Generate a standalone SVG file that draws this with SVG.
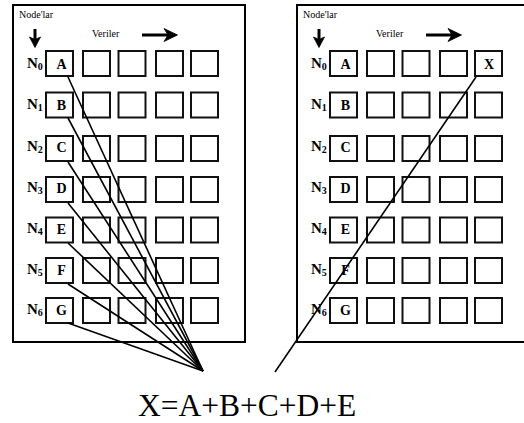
<svg xmlns="http://www.w3.org/2000/svg" width="524" height="423" viewBox="0 0 524 423">
  <style>
    .frame { fill: #fff; stroke: #000; stroke-width: 2; }
    .cell { fill: #fff; stroke: #111; stroke-width: 2; }
    .hdr { font-family: "Liberation Serif", "Times New Roman", serif; font-size: 10px; fill: #000; }
    .nlab { font-family: "Liberation Serif", "Times New Roman", serif; font-size: 15px; font-weight: bold; fill: #000; }
    .sub { font-size: 10px; }
    .clab { font-family: "Liberation Serif", "Times New Roman", serif; font-size: 14px; font-weight: bold; fill: #000; text-anchor: middle; }
    .link { stroke: #000; stroke-width: 1.6; fill: none; }
    .eq { font-family: "Liberation Serif", "Times New Roman", serif; font-size: 31.5px; fill: #000; }
  </style>
  <defs>
    <!-- one row of cells: a node label cell plus four data cells -->
    <g id="row">
      <rect class="cell" x="33" y="0" width="27" height="25"/>
      <rect class="cell" x="70" y="0" width="27" height="25"/>
      <rect class="cell" x="105.5" y="0" width="27" height="25"/>
      <rect class="cell" x="143" y="0" width="27" height="25"/>
      <rect class="cell" x="178" y="0" width="27" height="25"/>
    </g>
    <g id="head">
      <text class="hdr" x="6" y="18">Node'lar</text>
      <path d="M22,29 V40" stroke="#000" stroke-width="3"/>
      <path d="M16.5,37 L22,47.5 L27.5,37 L22,39.5 Z" fill="#000" stroke="#000" stroke-width="0.8" stroke-linejoin="round"/>
      <text class="hdr" x="79" y="37">Veriler</text>
      <path d="M129,35 H156" stroke="#000" stroke-width="3"/>
      <path d="M151,28.5 L164.5,35 L151,41.5 L155,35 Z" fill="#000" stroke="#000" stroke-width="0.8" stroke-linejoin="round"/>
    </g>
    <g id="nlabels">
      <text class="nlab" x="14" y="68">N<tspan class="sub" dy="2">0</tspan></text>
      <text class="nlab" x="14" y="109">N<tspan class="sub" dy="2">1</tspan></text>
      <text class="nlab" x="14" y="151">N<tspan class="sub" dy="2">2</tspan></text>
      <text class="nlab" x="14" y="192">N<tspan class="sub" dy="2">3</tspan></text>
      <text class="nlab" x="14" y="233">N<tspan class="sub" dy="2">4</tspan></text>
      <text class="nlab" x="14" y="274">N<tspan class="sub" dy="2">5</tspan></text>
      <text class="nlab" x="14" y="314">N<tspan class="sub" dy="2">6</tspan></text>
    </g>
    <g id="letters">
      <text class="clab" x="48.5" y="69">A</text>
      <text class="clab" x="48.5" y="110">B</text>
      <text class="clab" x="48.5" y="152">C</text>
      <text class="clab" x="48.5" y="193">D</text>
      <text class="clab" x="48.5" y="234">E</text>
      <text class="clab" x="48.5" y="275">F</text>
      <text class="clab" x="48.5" y="315">G</text>
    </g>
  </defs>

  <!-- left block: values before the reduction -->
  <g id="left-block" transform="translate(13,0)">
    <rect class="frame" x="0" y="5" width="232" height="337"/>
    <use href="#head"/>
    <use href="#row" y="51"/>
    <use href="#row" y="92.5"/>
    <use href="#row" y="136"/>
    <use href="#row" y="177"/>
    <use href="#row" y="217.5"/>
    <use href="#row" y="258"/>
    <use href="#row" y="298"/>
    <use href="#nlabels"/>
    <use href="#letters"/>
  </g>

  <!-- right block: result stored in the last cell of N0 -->
  <g id="right-block" transform="translate(297,0)">
    <rect class="frame" x="0" y="5" width="240" height="337"/>
    <use href="#head"/>
    <use href="#row" y="51"/>
    <use href="#row" y="92.5"/>
    <use href="#row" y="136"/>
    <use href="#row" y="177"/>
    <use href="#row" y="217.5"/>
    <use href="#row" y="258"/>
    <use href="#row" y="298"/>
    <use href="#nlabels"/>
    <use href="#letters"/>
    <text class="clab" x="192" y="69">X</text>
  </g>

  <!-- reduction lines -->
  <g id="connectors">
    <line class="link" x1="68" y1="77" x2="203" y2="371"/>
    <line class="link" x1="68" y1="118" x2="203" y2="371"/>
    <line class="link" x1="68" y1="162" x2="203" y2="371"/>
    <line class="link" x1="68" y1="203" x2="203" y2="371"/>
    <line class="link" x1="68" y1="243" x2="203" y2="371"/>
    <line class="link" x1="68" y1="284" x2="203" y2="371"/>
    <line class="link" x1="68" y1="323" x2="203" y2="371"/>
    <line class="link" x1="476" y1="77" x2="275" y2="372"/>
  </g>

  <text id="formula" class="eq" x="138" y="416">X=A+B+C+D+E</text>
</svg>
